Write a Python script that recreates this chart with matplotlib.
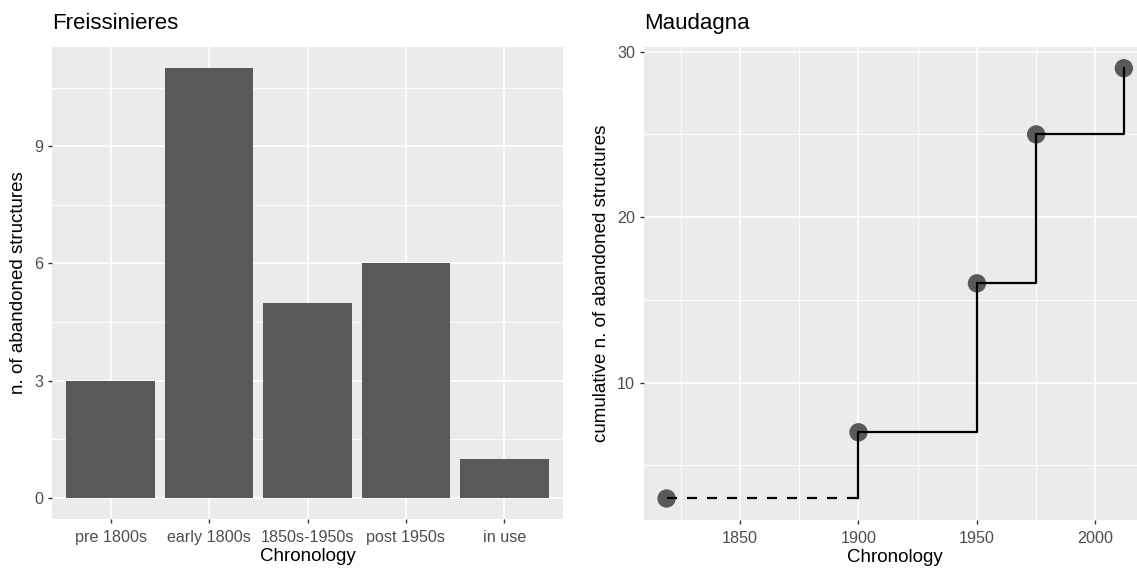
import numpy as np
import matplotlib
matplotlib.use("Agg")
import matplotlib.pyplot as plt
from matplotlib.ticker import MultipleLocator, FixedLocator

plt.rcParams['font.family'] = ['Liberation Sans', 'DejaVu Sans']

# Freissinieres: abandoned structures per period
periods = ['pre 1800s', 'early 1800s', '1850s-1950s', 'post 1950s', 'in use']
counts = [3, 11, 5, 6, 1]

# Maudagna: cumulative abandoned structures
years = [1819, 1900, 1950, 1975, 2012]
cumulative = [3, 7, 16, 25, 29]

W, H = 1137, 568
fig = plt.figure(figsize=(W / 100, H / 100), dpi=100)
fig.patch.set_facecolor('white')


def gg_axes(ax):
    ax.set_facecolor('#EBEBEB')
    for s in ax.spines.values():
        s.set_visible(False)
    ax.grid(True, which='major', color='white', linewidth=1.2)
    ax.grid(True, which='minor', color='white', linewidth=0.6)
    ax.set_axisbelow(True)
    ax.tick_params(which='major', length=3.2, width=1.0, color='#333333',
                   labelsize=11.6, labelcolor='#4D4D4D', pad=3)
    ax.tick_params(axis='x', which='major', pad=4.5)
    ax.tick_params(which='minor', length=0)


def box(l, t, r, b):
    return [l / W, 1 - b / H, (r - l) / W, (b - t) / H]


# left panel
ax1 = fig.add_axes(box(51.7, 46.7, 563.3, 519.3))
gg_axes(ax1)
xpos = np.arange(len(periods))
ax1.bar(xpos, counts, width=0.9, color='#595959', zorder=2)
ax1.set_xticks(xpos)
ax1.set_xticklabels(periods)
ax1.set_xlim(-0.6, len(periods) - 0.4)
ax1.set_ylim(-0.55, 11.55)
ax1.yaxis.set_major_locator(FixedLocator([0, 3, 6, 9]))
ax1.yaxis.set_minor_locator(FixedLocator([1.5, 4.5, 7.5, 10.5]))
ax1.set_xlabel('Chronology', fontsize=13.5, labelpad=2.5)
ax1.set_ylabel('n. of abandoned structures', fontsize=13.5, labelpad=5)
ax1.set_title('Freissinieres', loc='left', fontsize=16, pad=13)

# right panel (extends past the right edge, as in the original)
ax2 = fig.add_axes(box(643.7, 46.7, 1146.7, 520))
gg_axes(ax2)
ax2.scatter(years, cumulative, s=175, color='#595959', edgecolors='none',
            zorder=2)
ax2.plot([years[0], years[1]], [cumulative[0], cumulative[0]], color='black',
         linestyle=(0, (4.5, 4.5)), linewidth=1.6, zorder=3)
ax2.plot([years[1]] + years[1:], [cumulative[0]] + cumulative[1:], color='black',
         drawstyle='steps-post', linewidth=1.6, zorder=3)
ax2.set_xlim(1809.35, 2021.65)
ax2.set_ylim(1.7, 30.3)
ax2.xaxis.set_major_locator(MultipleLocator(50))
ax2.xaxis.set_minor_locator(FixedLocator([1825, 1875, 1925, 1975]))
ax2.yaxis.set_major_locator(FixedLocator([10, 20, 30]))
ax2.yaxis.set_minor_locator(FixedLocator([5, 15, 25]))
ax2.set_xlabel('Chronology', fontsize=13.5, labelpad=2.5)
ax2.set_ylabel('cumulative n. of abandoned structures', fontsize=13.5, labelpad=5)
ax2.set_title('Maudagna', loc='left', fontsize=16, pad=13)

fig.savefig('out.png', dpi=100)
